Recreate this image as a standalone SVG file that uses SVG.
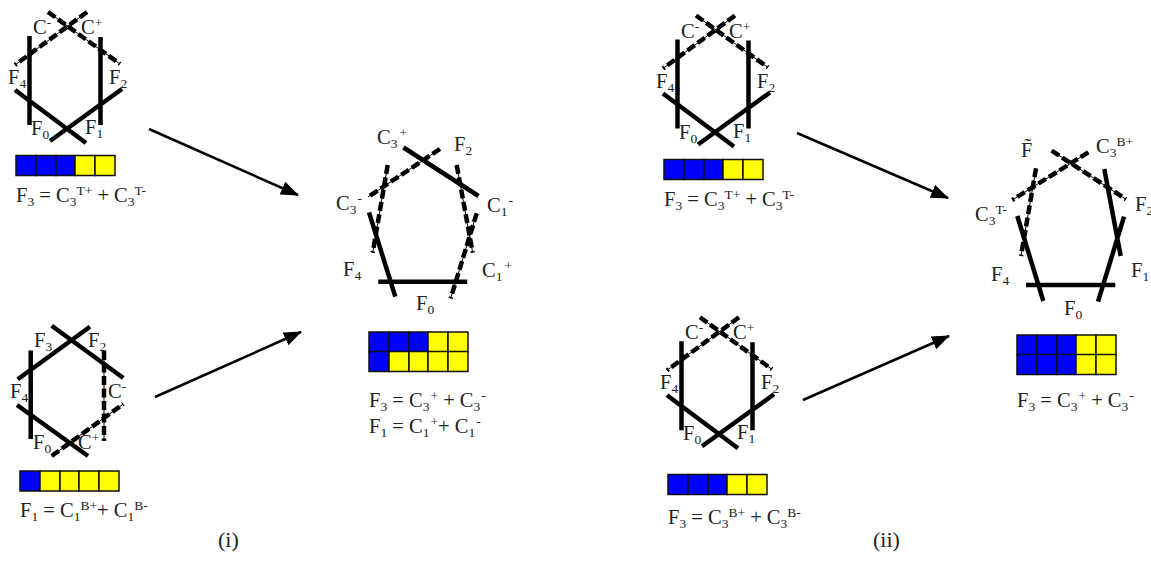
<svg xmlns="http://www.w3.org/2000/svg" width="1151" height="578" viewBox="0 0 1151 578">
<style>
text{font-family:"Liberation Serif","DejaVu Serif",serif;font-size:20.500px;fill:#222}
tspan.u{font-size:13.500px;baseline-shift:-4px}
tspan.p{font-size:13.500px;baseline-shift:7px}
.s{stroke:#000;stroke-width:4.500;fill:none}
.d{stroke:#000;stroke-width:4.500;fill:none;stroke-dasharray:9 3.500}
.t{stroke:#000;stroke-width:1;fill:none}
.a{stroke:#000;stroke-width:2.500;fill:none;marker-end:url(#ah)}
.b{fill:#0000ff;stroke:#111;stroke-width:1.500}
.y{fill:#ffff00;stroke:#111;stroke-width:1.500}
.cap{font-size:22px}
</style>
<defs>
<marker id="ah" markerUnits="userSpaceOnUse" markerWidth="20" markerHeight="16" refX="17" refY="7" orient="auto"><path d="M0 0L18 7L0 14Z" fill="#000"/></marker>
<g id="cellrow"><rect class="b" x="0" y="0" width="20" height="20"/><rect class="b" x="20" y="0" width="20" height="20"/><rect class="b" x="40" y="0" width="19" height="20"/><rect class="y" x="59" y="0" width="20" height="20"/><rect class="y" x="79" y="0" width="20" height="20"/></g>
<g id="hexT">
<path class="t" d="M48 12L120 64M87 12L15 65"/><path class="d" d="M48 12L120 64M87 12L15 65"/>
<path class="s" d="M29.500 36V125M100.500 37V125M15 90L86 143M50 141L122 89"/>
<text x="33" y="34">C<tspan class="p">-</tspan></text>
<text x="81" y="34">C<tspan class="p">+</tspan></text>
<text x="8" y="84">F<tspan class="u">4</tspan></text>
<text x="109" y="84">F<tspan class="u">2</tspan></text>
<text x="31" y="135">F<tspan class="u">0</tspan></text>
<text x="85" y="134">F<tspan class="u">1</tspan></text>
</g>
</defs>
<g id="connectors">
<path class="a" d="M149 129L298 195"/>
<path class="a" d="M155 397L301 332"/>
<path class="a" d="M797 133L948 198"/>
<path class="a" d="M803 400L949 336"/>
</g>
<g id="hex-i-top"><use href="#hexT"/></g>
<g id="bar-i-top"><use href="#cellrow" x="16" y="155.500"/>
<text x="16" y="202">F<tspan class="u">3</tspan> = C<tspan class="u">3</tspan><tspan class="p">T+</tspan> + C<tspan class="u">3</tspan><tspan class="p">T-</tspan></text></g>
<g id="hex-i-bottom">
<path class="t" d="M51.700 456L123.300 404M104 351V441"/><path class="d" d="M51.700 456L123.300 404M104 351V441"/>
<path class="s" d="M30.700 350.500V439M17 405L88 456M17.700 379.300L90 326.700M51.700 325.700L123.300 378"/>
<text x="34" y="347">F<tspan class="u">3</tspan></text>
<text x="88" y="347">F<tspan class="u">2</tspan></text>
<text x="10" y="398">F<tspan class="u">4</tspan></text>
<text x="108" y="398">C<tspan class="p">-</tspan></text>
<text x="33" y="449">F<tspan class="u">0</tspan></text>
<text x="78" y="449">C<tspan class="p">+</tspan></text>
</g>
<g id="bar-i-bottom">
<rect class="b" x="20" y="471" width="20" height="20"/><rect class="y" x="40" y="471" width="20" height="20"/><rect class="y" x="60" y="471" width="19" height="20"/><rect class="y" x="79" y="471" width="20" height="20"/><rect class="y" x="99" y="471" width="20" height="20"/>
<text x="20" y="517">F<tspan class="u">1</tspan> = C<tspan class="u">1</tspan><tspan class="p">B+</tspan>+ C<tspan class="u">1</tspan><tspan class="p">B-</tspan></text></g>
<g id="pent-i">
<path class="t" d="M440 149L368 197M387.700 165L372.700 252.700M456.700 165L472.700 252.700M476.700 213.300L450.700 298.300"/>
<path class="d" d="M440 149L368 197M387.700 165L372.700 252.700M456.700 165L472.700 252.700M476.700 213.300L450.700 298.300"/>
<path class="s" d="M403.500 147.500L478.500 196M369 212.300L395.300 296.700M378.300 281.700H467.300"/>
<text x="377" y="144">C<tspan class="u">3</tspan><tspan class="p" dx="2">+</tspan></text>
<text x="454" y="151">F<tspan class="u">2</tspan></text>
<text x="336" y="210">C<tspan class="u">3</tspan><tspan class="p" dx="1">-</tspan></text>
<text x="487" y="212">C<tspan class="u">1</tspan><tspan class="p" dx="1">-</tspan></text>
<text x="482" y="277">C<tspan class="u">1</tspan><tspan class="p" dx="2">+</tspan></text>
<text x="343" y="276">F<tspan class="u">4</tspan></text>
<text x="416" y="310">F<tspan class="u">0</tspan></text>
</g>
<g id="bar-i-double"><use href="#cellrow" x="369" y="332"/>
<rect class="b" x="369" y="351.500" width="20" height="20"/><rect class="y" x="389" y="351.500" width="20" height="20"/><rect class="y" x="409" y="351.500" width="19" height="20"/><rect class="y" x="428" y="351.500" width="20" height="20"/><rect class="y" x="448" y="351.500" width="20" height="20"/>
<text x="369" y="407">F<tspan class="u">3</tspan> = C<tspan class="u">3</tspan><tspan class="p" dx="1">+</tspan> + C<tspan class="u">3</tspan><tspan class="p" dx="1">-</tspan></text>
<text x="369" y="433">F<tspan class="u">1</tspan> = C<tspan class="u">1</tspan><tspan class="p" dx="1">+</tspan>+ C<tspan class="u">1</tspan><tspan class="p" dx="1">-</tspan></text></g>
<g id="hex-ii-top"><use href="#hexT" transform="translate(648 3.500)"/></g>
<g id="bar-ii-top"><use href="#cellrow" x="664" y="159.500"/>
<text x="664" y="206">F<tspan class="u">3</tspan> = C<tspan class="u">3</tspan><tspan class="p">T+</tspan> + C<tspan class="u">3</tspan><tspan class="p">T-</tspan></text></g>
<g id="hex-ii-bottom"><use href="#hexT" transform="translate(652 305.300)"/></g>
<g id="bar-ii-bottom"><use href="#cellrow" x="668" y="474.500"/>
<text x="668" y="524">F<tspan class="u">3</tspan> = C<tspan class="u">3</tspan><tspan class="p">B+</tspan> + C<tspan class="u">3</tspan><tspan class="p">B-</tspan></text></g>
<g id="pent-ii">
<path class="t" d="M1051.700 150.700L1126 199.300M1088.300 152.300L1012.300 200M1036 168.300L1021 256"/>
<path class="d" d="M1051.700 150.700L1126 199.300M1088.300 152.300L1012.300 200M1036 168.300L1021 256"/>
<path class="s" d="M1017.300 216L1043.300 301M1026 285H1115.300M1104.300 169L1120.700 256M1124 216.700L1098 301.700"/>
<text x="1021" y="157">F̃</text>
<text x="1096" y="153">C<tspan class="u">3</tspan><tspan class="p">B+</tspan></text>
<text x="975" y="221">C<tspan class="u">3</tspan><tspan class="p">T-</tspan></text>
<text x="1135" y="211">F<tspan class="u">2</tspan></text>
<text x="1131" y="277">F<tspan class="u">1</tspan></text>
<text x="991" y="281">F<tspan class="u">4</tspan></text>
<text x="1064" y="315">F<tspan class="u">0</tspan></text>
</g>
<g id="bar-ii-double"><use href="#cellrow" x="1017" y="335"/><use href="#cellrow" x="1017" y="354.500"/>
<text x="1017" y="407">F<tspan class="u">3</tspan> = C<tspan class="u">3</tspan><tspan class="p" dx="1">+</tspan> + C<tspan class="u">3</tspan><tspan class="p" dx="1">-</tspan></text></g>
<text class="cap" x="218" y="547">(i)</text>
<text class="cap" x="873" y="547">(ii)</text>
</svg>
